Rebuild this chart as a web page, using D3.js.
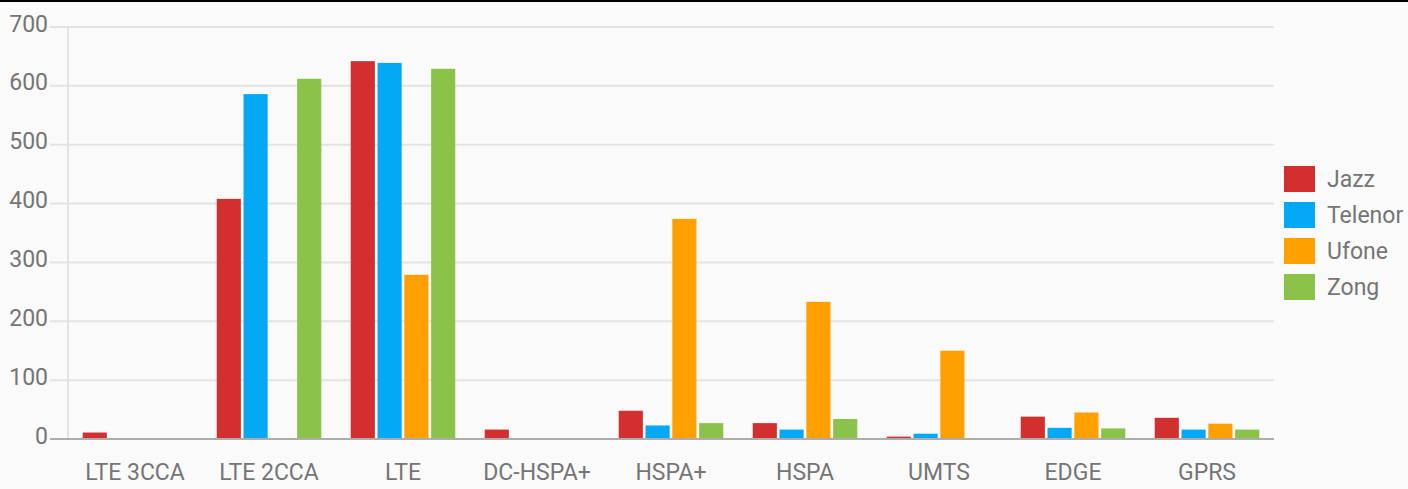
<!DOCTYPE html>
<html>
<head>
<meta charset="utf-8">
<script src="https://cdn.jsdelivr.net/npm/d3@7"></script>
<style>
  html, body { margin: 0; padding: 0; background: #fafafa; }
  svg { display: block; }
</style>
</head>
<body>
<svg id="chart" width="1408" height="489"></svg>
<script>
const categories = ["LTE 3CCA", "LTE 2CCA", "LTE", "DC-HSPA+", "HSPA+", "HSPA", "UMTS", "EDGE", "GPRS"];
const seriesNames = ["Jazz", "Telenor", "Ufone", "Zong"];
const jazz    = [11, 408, 642, 16, 48, 27, 4, 38, 36];
const telenor = [0, 586, 639, 0, 23, 16, 9, 19, 16];
const ufone   = [0, 0, 279, 0, 374, 233, 150, 45, 26];
const zong    = [0, 612, 629, 0, 27, 34, 0, 18, 16];
const yTicks  = [0, 100, 200, 300, 400, 500, 600, 700];
const colors  = ["#d32f2f", "#03a9f4", "#ffa000", "#8bc34a"];

(function () {
const seriesValues = [jazz, telenor, ufone, zong];
const svg = d3.select("#chart");
const W = 1408, H = 489;
const plotLeft = 68, plotRight = 1274, plotTop = 27, plotBottom = 439;
const font = "Roboto, 'Noto Sans', sans-serif";
const textColor = "#757575";

svg.append("rect").attr("width", W).attr("height", H).attr("fill", "#fafafa");
svg.append("rect").attr("x", 0).attr("y", 0).attr("width", W).attr("height", 2).attr("fill", "#000");

const y = d3.scaleLinear().domain([0, 700]).range([plotBottom, plotTop]);
const x0 = d3.scaleBand().domain(categories).range([plotLeft, plotRight]).paddingInner(0.22).paddingOuter(0.11);
const x1 = d3.scaleBand().domain(seriesNames).range([0, x0.bandwidth()]).paddingInner(0.1);
const color = d3.scaleOrdinal().domain(seriesNames).range(colors);

// gridlines
svg.append("g").selectAll("line").data(yTicks.filter(t => t > 0)).enter().append("line")
  .attr("x1", 50).attr("x2", plotRight)
  .attr("y1", d => y(d)).attr("y2", d => y(d))
  .attr("stroke", "#e3e3e3").attr("stroke-width", 2);
// y axis vertical line
svg.append("line").attr("x1", plotLeft).attr("x2", plotLeft).attr("y1", plotTop).attr("y2", plotBottom)
  .attr("stroke", "#e3e3e3").attr("stroke-width", 2);

// y tick labels
svg.append("g").selectAll("text").data(yTicks).enter().append("text")
  .attr("x", 48).attr("y", d => y(d) - 3)
  .attr("text-anchor", "end").attr("dominant-baseline", "central")
  .attr("font-family", font).attr("font-size", 23).attr("fill", textColor)
  .text(d => d);

// bars
const rows = categories.map((c, i) => ({ cat: c, vals: seriesNames.map((s, j) => ({ s, v: seriesValues[j][i] })) }));
const groups = svg.append("g").selectAll("g").data(rows).enter().append("g")
  .attr("transform", d => `translate(${x0(d.cat)},0)`);
groups.selectAll("rect").data(d => d.vals.filter(e => e.v > 0)).enter().append("rect")
  .attr("x", d => x1(d.s)).attr("width", x1.bandwidth())
  .attr("y", d => y(d.v)).attr("height", d => y(0) - y(d.v))
  .attr("fill", d => color(d.s));

// baseline
svg.append("line").attr("x1", 50).attr("x2", plotRight).attr("y1", y(0)).attr("y2", y(0))
  .attr("stroke", "#adadad").attr("stroke-width", 2);

// x labels
svg.append("g").selectAll("text").data(categories).enter().append("text")
  .attr("x", d => x0(d) + x0.bandwidth() / 2).attr("y", 472)
  .attr("text-anchor", "middle").attr("dominant-baseline", "central")
  .attr("font-family", font).attr("font-size", 23).attr("fill", textColor)
  .text(d => d);

// legend
const legend = svg.append("g").selectAll("g").data(seriesNames).enter().append("g")
  .attr("transform", (d, i) => `translate(1284,${166 + i * 36})`);
legend.append("rect").attr("width", 31).attr("height", 26).attr("fill", d => color(d));
legend.append("text").attr("x", 43).attr("y", 13)
  .attr("dominant-baseline", "central")
  .attr("font-family", font).attr("font-size", 23).attr("fill", textColor)
  .text(d => d);
})();
</script>
</body>
</html>
